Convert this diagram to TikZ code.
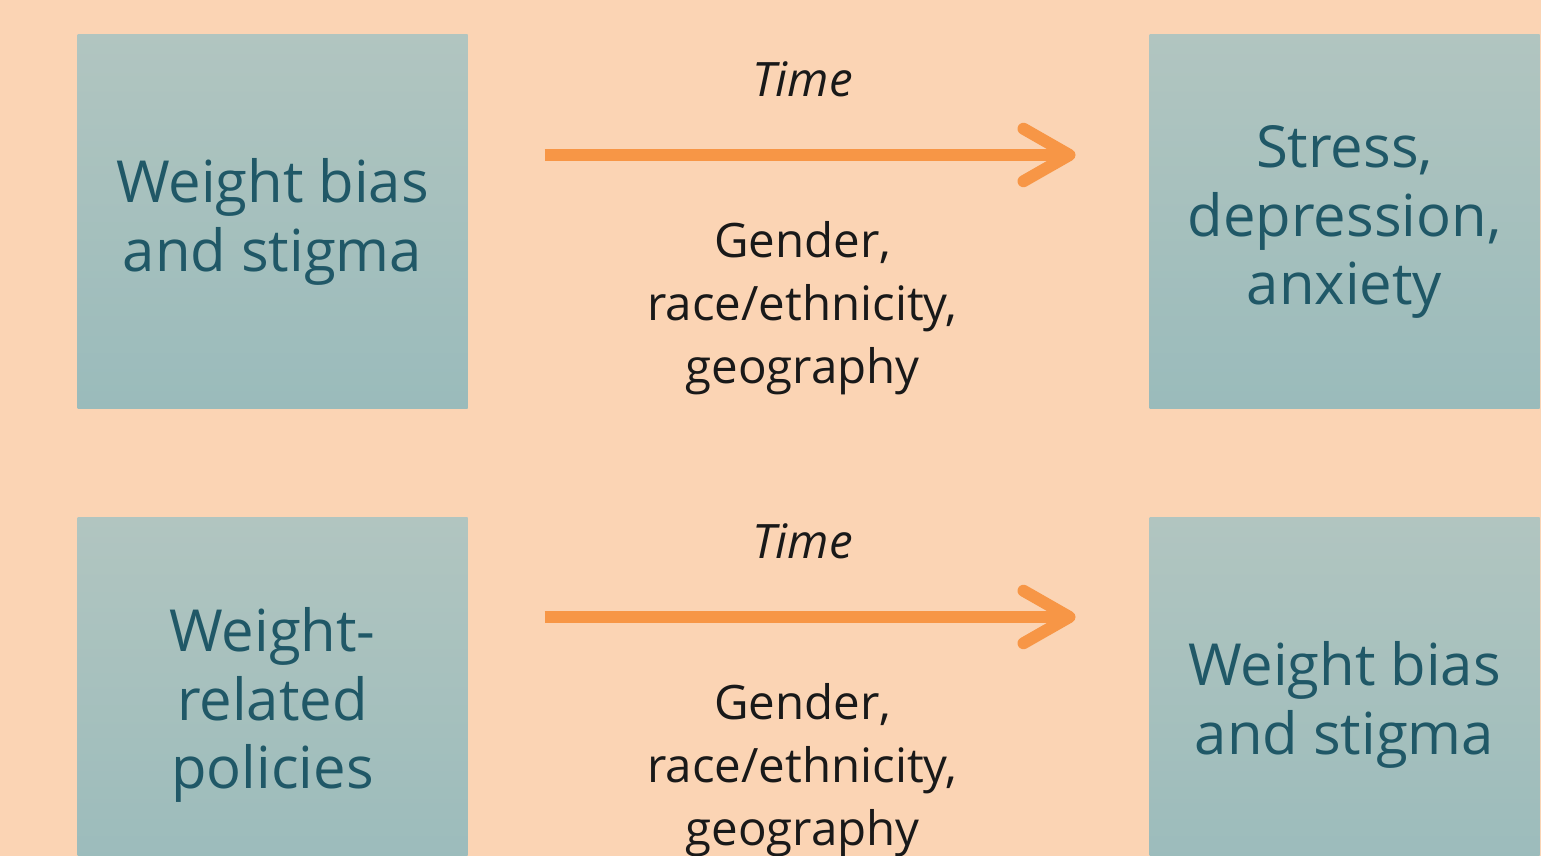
\documentclass[tikz,border=0pt]{standalone}
\usepackage{fontspec}
\setmainfont{Open Sans}
\usepackage{tikz}
\usetikzlibrary{arrows.meta,positioning,shadings}
\definecolor{peachbg}{RGB}{251,212,180}
\definecolor{boxtop}{RGB}{177,197,192}
\definecolor{boxbot}{RGB}{154,187,187}
\definecolor{boxtext}{RGB}{32,88,103}
\definecolor{flowline}{RGB}{247,150,70}

\begin{document}
\begin{tikzpicture}[
    box/.style={rectangle, top color=boxtop, bottom color=boxbot, draw=none,
        minimum width=7.8cm, minimum height=7.48cm, inner sep=0pt, outer sep=0pt,
        align=center, text=boxtext, font=\fontsize{33}{39}\selectfont},
    note/.style={inner sep=0pt, align=center, text=black!90, xshift=-0.15cm,
        font=\fontsize{27}{36}\selectfont},
    flow/.style={-{Straight Barb[length=0.92cm, width=1.05cm, round]},
        line width=0.24cm, draw=flowline}]
\fill[peachbg] (0,0) rectangle (30.82,17.12);
\useasboundingbox (0,0) rectangle (30.82,17.12);
\clip (0,0) rectangle (30.82,17.12);

\node[box] (bias1) at (5.45,12.68) {Weight bias\\and stigma};
\node[box, right=13.64cm of bias1]  (mood)   {Stress,\\depression,\\anxiety};
\node[box, below=2.18cm of bias1]   (policy) {Weight-\\related\\policies};
\node[box, below=2.18cm of mood]    (bias2)  {Weight bias\\and stigma};

\coordinate (s1) at ([xshift=1.54cm, yshift=1.34cm]bias1.east);
\coordinate (e1) at ([xshift=-1.48cm, yshift=1.34cm]mood.west);
\coordinate (s2) at ([xshift=1.54cm, yshift=1.76cm]policy.east);
\coordinate (e2) at ([xshift=-1.48cm, yshift=1.76cm]bias2.west);

\draw[flow] (s1) -- (e1);
\draw[flow] (s2) -- (e2);

\path (s1) -- (e1) node[midway, note, above=1.16cm] (time1) {\itshape Time};
\path (s1) -- (e1) node[midway, note, below=1.32cm] (group1) {Gender,\\race/ethnicity,\\geography};
\path (s2) -- (e2) node[midway, note, above=1.16cm] (time2) {\itshape Time};
\path (s2) -- (e2) node[midway, note, below=1.32cm] (group2) {Gender,\\race/ethnicity,\\geography};
\end{tikzpicture}
\end{document}
